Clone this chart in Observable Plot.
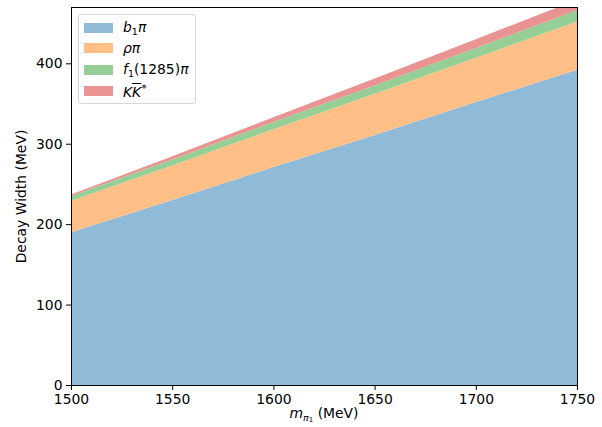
<!DOCTYPE html>
<html>
<head>
<meta charset="utf-8">
<script src="https://cdn.jsdelivr.net/npm/d3@7"></script>
<script src="https://cdn.jsdelivr.net/npm/@observablehq/plot@0.6"></script>
<style>
  html, body { margin: 0; padding: 0; background: #fff; }
  #wrap { position: relative; width: 602px; height: 427px; overflow: hidden; font-family: "DejaVu Sans", sans-serif; }
  #legend { position: absolute; left: 78px; top: 14px; width: 118px; height: 90px; border: 1px solid #d6d6d6; border-radius: 3px; background: rgba(255,255,255,0.8); box-sizing: border-box; }
  .row { position: absolute; left: 5px; height: 20px; display: flex; align-items: center; font-size: 13.9px; color: #000; }
  .sw { width: 29px; height: 10px; margin-right: 10px; }
  .m { font-style: italic; }
  sub, sup { font-size: 9.5px; font-style: normal; }
  sub { vertical-align: -3px; }
  sup { vertical-align: 5px; }
  #xlabel { position: absolute; left: 0; width: 648px; top: 405px; text-align: center; font-size: 13.9px; line-height: 17px; }
</style>
</head>
<body>
<div id="wrap"></div>
<script>
const mass = [1500, 1550, 1600, 1650, 1700, 1750];
const channels = ["b1pi", "rhopi", "f1pi", "KKstar"];
const b1pi   = [190, 230, 271, 311, 352, 392];
const rhopi  = [39, 43, 47, 51, 55, 60];
const f1pi   = [6, 7.5, 9, 10.5, 12, 14];
const KKstar = [2, 4, 6, 8.5, 11, 13];
const colors = ["#8fbbd9", "#ffbf86", "#95cf95", "#ea9393"];
const xTicks = [1500, 1550, 1600, 1650, 1700, 1750];
const yTicks = [0, 100, 200, 300, 400];

const series = {b1pi, rhopi, f1pi, KKstar};
const data = [];
channels.forEach(c => mass.forEach((m, i) => data.push({m, w: series[c][i], ch: c})));

const plot = Plot.plot({
  width: 602,
  height: 427,
  marginLeft: 71,
  marginRight: 25,
  marginTop: 7,
  marginBottom: 42,
  style: {fontFamily: "DejaVu Sans", fontSize: "13.9px", color: "#000", background: "#fff"},
  x: {domain: [1500, 1750], ticks: xTicks, tickFormat: d => String(d)},
  y: {domain: [0, 470], ticks: yTicks},
  color: {domain: channels, range: colors},
  marks: [
    Plot.areaY(data, {x: "m", y: "w", fill: "ch", z: "ch", order: null, clip: true}),
    Plot.frame({stroke: "#000", strokeWidth: 1}),
    Plot.axisX({ticks: xTicks, tickSize: 5, tickPadding: 4, label: null, tickFormat: d => String(d)}),
    Plot.axisY({ticks: yTicks, tickSize: 5, tickPadding: 4, label: "Decay Width (MeV)", labelAnchor: "center", labelArrow: "none", labelOffset: 55})
  ]
});

const wrap = document.getElementById("wrap");
wrap.appendChild(plot);

const labels = [
  '<span class="m">b</span><sub>1</sub><span class="m">π</span>',
  '<span class="m">ρπ</span>',
  '<span class="m">f</span><sub>1</sub>(1285)<span class="m">π</span>',
  '<span class="m">K</span><span class="m" style="text-decoration: overline; text-decoration-thickness: 1px;">K</span><sup style="font-size:11px">*</sup>'
];
const legend = document.createElement("div");
legend.id = "legend";
const rowTops = [3, 23, 45, 66];
channels.forEach((c, i) => {
  const r = document.createElement("div");
  r.className = "row";
  r.style.top = rowTops[i] + "px";
  r.innerHTML = `<div class="sw" style="background:${colors[i]}"></div><div>${labels[i]}</div>`;
  legend.appendChild(r);
});
wrap.appendChild(legend);

const xl = document.createElement("div");
xl.id = "xlabel";
xl.innerHTML = '<span class="m">m</span><sub><span class="m">π</span><sub style="font-size:7px;vertical-align:-1px">1</sub></sub> (MeV)';
wrap.appendChild(xl);
</script>
</body>
</html>
